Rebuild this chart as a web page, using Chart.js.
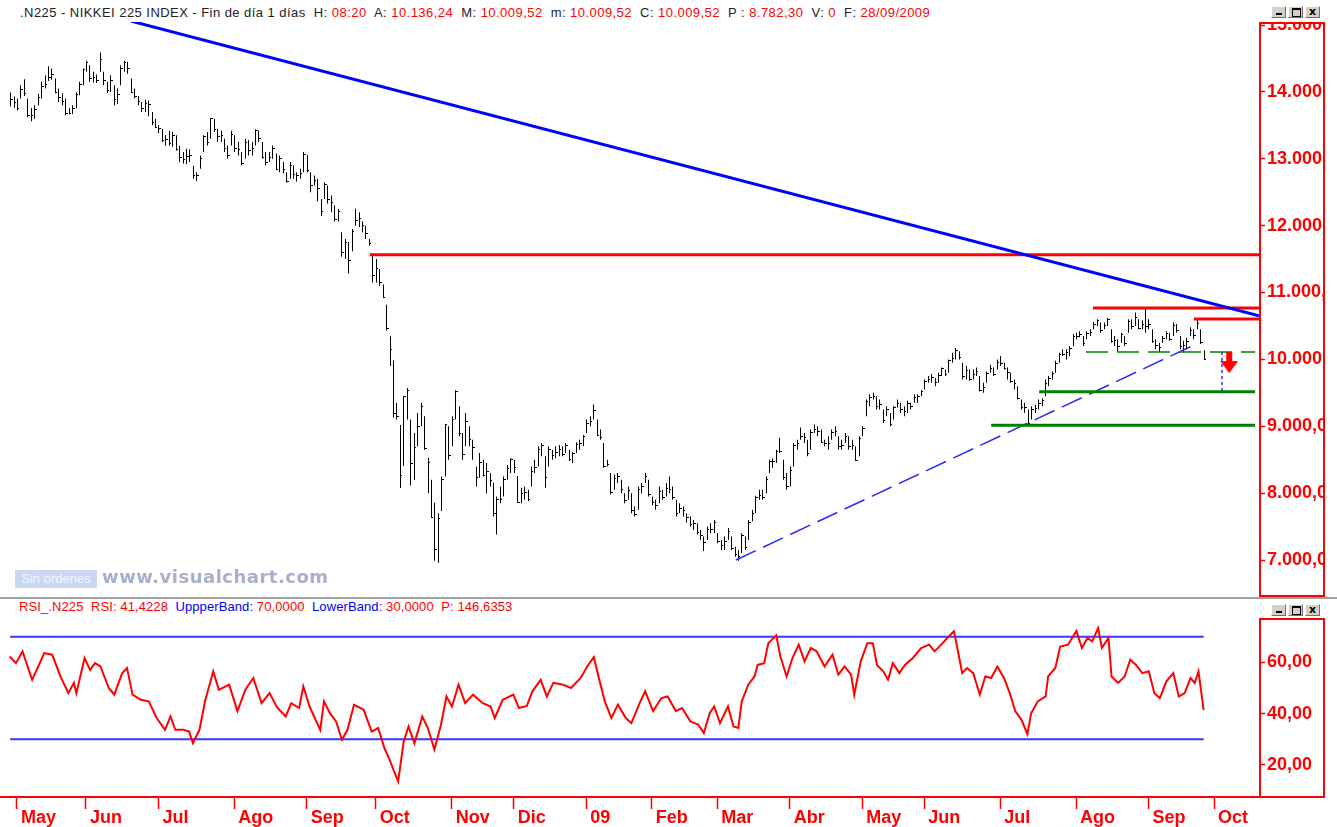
<!DOCTYPE html>
<html><head><meta charset="utf-8">
<script src="https://cdn.jsdelivr.net/npm/chart.js@4.4.1/dist/chart.umd.min.js"></script>
<style>
html,body{margin:0;padding:0;background:#fff;width:1337px;height:827px;overflow:hidden;position:relative;font-family:'Liberation Sans',Arial,sans-serif;}
.abs{position:absolute;}
#hdr{left:20px;top:5px;font-size:13px;line-height:15px;white-space:pre;color:#222;letter-spacing:0.45px;}
#rsiHdr{left:19px;top:599px;font-size:13px;line-height:15px;white-space:pre;color:#ff0000;letter-spacing:0.1px;}
.r{color:#ff0000}.b{color:#0000ff}
#mainC{left:0;top:22px;}
#rsiC{left:0;top:618px;}
.sep{left:0;top:597px;width:1337px;height:2px;background:#a0a0a0;}
.wb{position:absolute;width:15px;height:12px;background:#d4d0c8;border-top:1px solid #fff;border-left:1px solid #fff;border-right:1px solid #707070;border-bottom:1px solid #707070;box-sizing:border-box;}
.wb i{position:absolute;display:block;}
.min i{left:4px;top:6px;width:6px;height:2px;background:#000;}
.max i{left:3px;top:1px;width:7px;height:6px;border:1px solid #000;border-top-width:2px;}
.cls{font:bold 11px 'DejaVu Sans';line-height:10px;text-align:center;color:#000;}
#sinord{left:15px;top:570px;width:82px;height:18px;background:#c9d7f3;color:#f2f5ff;font-size:13px;line-height:18px;text-align:center;}
#vc{left:102px;top:566px;font:bold 18px 'DejaVu Sans';color:#a9aecd;letter-spacing:0.5px;}
</style>
</head><body>
<div id="hdr" class="abs">.N225 - NIKKEI 225 INDEX - Fin de día 1 días  H: <span class="r">08:20</span>  A: <span class="r">10.136,24</span>  M: <span class="r">10.009,52</span>  m: <span class="r">10.009,52</span>  C: <span class="r">10.009,52</span>  P : <span class="r">8.782,30</span>  V: <span class="r">0</span>  F: <span class="r">28/09/2009</span></div>
<div class="wb min" style="left:1271px;top:6px"><i></i></div>
<div class="wb max" style="left:1288px;top:6px"><i></i></div>
<div class="wb cls" style="left:1305px;top:6px">x</div>
<canvas id="mainC" class="abs" width="1325" height="575"></canvas>
<div id="sinord" class="abs">Sin órdenes</div>
<div id="vc" class="abs">www.visualchart.com</div>
<div class="sep abs"></div>
<div id="rsiHdr" class="abs">RSI_.N225  RSI: 41,4228  <span class="b">UppperBand:</span> 70,0000  <span class="b">LowerBand:</span> 30,0000  P: 146,6353</div>
<div class="wb min" style="left:1271px;top:604px"><i></i></div>
<div class="wb max" style="left:1288px;top:604px"><i></i></div>
<div class="wb cls" style="left:1305px;top:604px">x</div>
<canvas id="rsiC" class="abs" width="1325" height="209"></canvas>
<script>
// ---------- DATA (trading-day index 0 = 28/04/2008) ----------
const monthIdx = [2,22,43,65,86,106,128,146,167,186,205,226,247,265,287,309,330,349];
const monthLbl = ['May','Jun','Jul','Ago','Sep','Oct','Nov','Dic','09','Feb','Mar','Abr','May','Jun','Jul','Ago','Sep','Oct'];
const priceTicks = [7000,8000,9000,10000,11000,12000,13000,14000,15000];
const priceLbl = ['7.000,00','8.000,00','9.000,00','10.000,00','11.000,00','12.000,00','13.000,00','14.000,00','15.000,00'];
const rsiTicks = [20,40,60];
const rsiLbl = ['20,00','40,00','60,00'];

const cl = [
13894,13849,
13766,14049,13978,13655,13655,13742,13920,14081,14118,14220,14269,14003,13926,13860,13690,13691,13759,13973,14121,14338,
14440,14209,14230,14183,14489,14181,14021,14183,13888,13973,14354,14452,14350,14002,13942,13857,13763,13829,13822,13544,13481,
13463,13286,13300,13237,13350,13150,13033,12992,13039,13059,12754,12760,13011,13334,13248,13603,13452,13334,13353,13159,13060,13376,
13168,13153,12933,13254,13124,13168,13430,13303,13023,12956,13019,13165,12852,13011,12851,12666,12910,12766,12753,12790,13072,
12834,12609,12689,12557,12212,12624,12400,12346,12102,12214,11609,11749,11489,11920,12090,12115,12006,11893,11743,11259,
11368,11154,10938,10473,10156,9203,9157,8276,9447,9547,8458,8693,9005,9306,8674,8460,7649,7162,7621,8211,9029,8577,
9114,9521,8899,8583,9081,8809,8695,8238,8463,8273,8328,8190,7703,7910,7911,8213,8373,8512,
8397,7863,8004,8016,7917,8329,8395,8660,8720,8235,8664,8568,8612,8667,8588,8723,8517,8599,8739,8747,8859,
9043,9080,9239,8876,8836,8413,8438,8023,8230,8256,8065,7901,8051,7745,7682,8061,8106,8251,7994,
7873,7825,8038,7949,8076,8065,7945,7705,7779,7750,7645,7534,7557,7416,7376,7268,7461,7457,7568,
7280,7229,7290,7433,7173,7086,7054,7376,7198,7569,7704,7949,7972,7945,8215,8488,8480,8636,8626,8236,8109,
8351,8719,8749,8857,8833,8595,8916,8964,8924,8767,8743,8755,8907,8925,8711,8727,8847,8707,8726,8493,8828,
8977,9385,9432,9451,9298,9340,9093,9265,9038,9290,9344,9264,9225,9347,9310,9438,9451,9523,
9677,9704,9741,9668,9768,9865,9787,9991,10022,10135,10039,9752,9840,9703,9786,9826,9549,9590,9796,9877,9783,9958,
9939,9876,9816,9680,9647,9420,9291,9287,9050,9262,9269,9344,9395,9652,9723,9792,9944,10088,10087,10113,10165,10357,
10352,10375,10252,10388,10412,10524,10585,10435,10517,10597,10268,10284,10204,10383,10238,10581,10497,10639,10473,10534,10492,
10530,10280,10214,10187,10320,10393,10312,10513,10444,10202,10217,10270,10443,10370,10544,10265,10009];

const hi = [
13990,13930,
13900,14100,14190,13900,13760,13800,13968,14150,14250,14383,14350,14200,14050,13980,13900,13760,13800,13990,14150,14350,
14466,14400,14300,14260,14588,14300,14150,14250,14100,14050,14400,14466,14450,14200,14050,13940,13850,13880,13870,13700,13600,
13500,13450,13350,13415,13400,13350,13195,13100,13150,13140,12890,12800,13050,13350,13400,13608,13600,13450,13420,13300,13200,13420,
13350,13250,13100,13300,13280,13250,13443,13420,13250,13100,13100,13200,13080,13050,12950,12800,12950,12900,12800,12850,13100,
13056,12800,12750,12700,12400,12650,12600,12450,12300,12250,11900,11800,11755,11950,12254,12200,12060,12000,11800,11562,
11500,11350,11120,10816,10345,9985,9350,9018,9450,9574,9100,8900,9200,9350,9150,8528,8200,7857,7700,8250,9030,9000,
9150,9540,9300,8900,9200,9000,8800,8400,8600,8500,8450,8300,8155,7950,8100,8250,8420,8520,
8500,8255,8080,8100,8050,8400,8500,8703,8750,8550,8700,8650,8700,8720,8700,8750,8650,8620,8760,8800,8870,
9100,9150,9325,9100,8950,8750,8500,8300,8280,8300,8200,8000,8100,8000,7800,8100,8150,8305,8200,
7950,7900,8100,8050,8150,8250,8100,7900,7850,7800,7700,7650,7600,7550,7450,7350,7500,7550,7600,
7400,7300,7350,7480,7350,7200,7150,7400,7350,7600,7750,7960,8050,8050,8250,8500,8520,8650,8827,8500,8300,
8400,8750,8800,8980,8900,8800,8950,9025,9000,8950,8800,8850,8950,9000,8850,8800,8900,8850,8800,8700,8850,
9000,9400,9480,9500,9450,9400,9250,9300,9200,9300,9400,9350,9300,9380,9350,9480,9480,9540,
9700,9750,9780,9720,9800,9880,9850,10000,10100,10170,10120,9950,9900,9850,9850,9880,9750,9650,9820,9920,9880,10000,
10050,9950,9880,9800,9700,9600,9400,9350,9250,9300,9320,9400,9420,9700,9750,9820,9980,10100,10150,10150,10200,10380,
10400,10420,10350,10420,10450,10560,10600,10550,10550,10620,10450,10350,10300,10400,10350,10600,10600,10700,10600,10580,10767,
10600,10450,10300,10250,10350,10420,10400,10550,10530,10350,10280,10320,10480,10450,10605,10450,10136];

const lo = [
13780,13760,
13720,13900,13940,13620,13560,13600,13800,13900,14050,14162,14180,13980,13850,13800,13650,13665,13670,13750,13950,14100,
14300,14150,14140,14134,14300,14100,13980,14000,13800,13820,14100,14300,14273,13980,13900,13800,13700,13700,13637,13500,13470,
13380,13250,13200,13200,13180,13120,12950,12930,12918,12950,12700,12668,12850,13100,13200,13300,13400,13250,13250,13100,13000,13200,
13100,13050,12900,13000,13050,13050,13200,13250,13000,12900,12950,13000,12830,12800,12780,12640,12700,12700,12660,12700,12800,
12800,12500,12600,12365,12143,12400,12330,12200,12060,12060,11535,11500,11286,11618,12000,11977,11900,11800,11700,11148,
11150,11100,10926,10430,9900,9129,9100,8078,8404,9100,8115,8200,8700,9000,8650,8000,7632,6990,6960,7732,8250,8500,
8700,9100,8850,8500,8700,8700,8500,8100,8230,8250,8000,8100,7650,7383,7850,7950,8200,8300,
8300,7856,7850,7900,7880,8100,8300,8400,8550,8080,8400,8500,8520,8550,8550,8600,8480,8450,8600,8650,8700,
8900,9000,9100,8850,8800,8380,8400,7980,8050,8150,8000,7850,7900,7700,7650,7750,8000,8150,7950,
7820,7750,7850,7900,7950,8000,7900,7650,7700,7650,7560,7500,7450,7380,7300,7134,7300,7400,7400,
7250,7150,7150,7300,7150,7050,6990,7100,7150,7300,7580,7700,7900,7900,8000,8300,8380,8450,8600,8200,8050,
8100,8400,8650,8800,8750,8550,8650,8900,8850,8750,8700,8650,8800,8850,8650,8650,8750,8650,8650,8480,8550,
8850,9150,9300,9400,9250,9250,9050,9150,9000,9100,9280,9200,9150,9200,9250,9350,9350,9450,
9550,9650,9650,9600,9650,9750,9750,9800,9950,10000,10000,9700,9700,9680,9700,9750,9520,9500,9650,9800,9750,9850,
9900,9850,9700,9650,9550,9400,9250,9200,9030,9100,9200,9250,9300,9450,9600,9700,9800,9950,10050,10000,10050,10200,
10300,10330,10200,10300,10350,10450,10500,10400,10450,10500,10250,10200,10110,10250,10200,10400,10450,10500,10450,10450,10400,
10450,10250,10150,10110,10250,10300,10280,10350,10400,10150,10110,10150,10350,10300,10450,10230,9990];

// RSI (x = trading-day index, y = RSI)
const rsiX = [-0.1,1.7,3.6,6.4,9.9,12.2,14.6,16.9,18.5,19.2,21.6,23.2,24.6,26.2,28.6,30.2,32.5,33.9,35.5,37.9,
40.2,42.5,44.9,46.5,47.9,50.2,51.9,53,54.9,56.5,58.9,60.5,63.5,65.9,68.2,70.5,72.9,75.2,77.5,79.9,
81.5,83.8,85,86.8,89.9,91,92.7,94.5,96.2,97.8,99.7,102.5,104.8,106.7,108.5,110.2,111.3,112.5,114.1,115.5,
117.2,119.5,121.1,123,124.9,126.5,128.1,130,131.9,134.2,137,139.3,140.5,142.8,145.9,147.5,149.8,151.4,153.8,155.6,
157.5,160.3,162.6,165.4,167.3,169.2,170.8,172.4,174.3,176.2,178.5,180.1,182.5,184.1,186.4,188.8,190.6,193,194.8,197.2,
199.5,201.1,202.8,204.1,205.8,208.1,209.7,211.1,212.1,214,215.8,216.7,218.6,219.8,222.1,223.3,225.1,226.8,228.6,230.3,
232.1,233.8,236.1,238.4,240.1,241.9,243.8,244.7,246.6,248.5,250.1,251.3,253.1,254.5,255.9,257.8,259.4,261.7,264.1,266.4,
268,269.9,271.7,273.6,274.6,276,277.4,279.2,281.1,282.7,284.4,286.2,288.1,289.8,291.4,293.2,294.9,296,297.9,300.2,
300.9,303,304.4,306.7,309.1,310.7,312.3,313.7,315.4,316.5,318.4,319.3,321.2,323.1,324.7,326.4,328.2,330.1,331.7,333.3,
335.2,337.2,338.8,340.5,342.2,343.4,344.5,346];
const rsiY = [62.3,59.7,64.3,53.2,63.6,63,54.5,48,52,48,61.7,57,59.7,58.4,50,47.4,55.8,57.8,47.4,45.4,
44.8,38.3,33.7,38.9,33.7,33.7,33,28.5,33.7,44.8,56.5,49.3,51.3,41,49.3,53.9,44.1,48,42.2,38.9,
44.1,42.2,50.6,42.8,33.7,44.8,40.2,37,29.8,33.7,43.5,41.5,33,34.4,26.6,21.4,17.5,13.6,29.2,35,
28.5,38.9,34.4,26,35.7,46.7,42.8,51.3,44.1,47.4,44.1,42.8,38.3,45.4,47.4,42.2,43,48.7,53.2,46.7,
52,51.3,50,53.9,58.4,62,53.2,44.8,38.3,43.5,38.3,36.3,44.1,48.7,41,46.1,46.7,41,42.2,37,
35.7,32.4,40.2,42.8,36.3,42.8,35,34.4,44.8,51.3,54.5,59,59.7,67.5,70.5,62.3,54.5,61.7,66.9,60.4,
65.6,64.3,58.4,63,55.2,58.4,55.2,47.4,60.4,67.5,67.5,59,56.5,53.2,59.7,55.8,59,61.7,65.6,66.9,
64.3,66.9,69.5,72.1,65.6,55.8,57.8,55.8,47.4,54.5,53.9,58.4,53.9,48,40.9,37.6,32,40.2,44.8,46.7,
54.5,57.8,66.2,66.9,72.3,65.6,69.5,68.2,73.4,65.6,69.5,54.5,52,54.5,61,59,55.8,56.5,48,46.1,
52.6,55.8,46.7,48,53.9,52,56.5,41.4];
const rsiBands = [70, 30];
const bandX = [0, 346];

// drawn study lines (index, price)
const downTrendX = [35.0, 362.04], downTrendY = [15059, 10651];
const upTrendX = [210.4, 343.5], upTrendY = [7000, 10221];
const redLevels = [11565, 10769, 10605], redStart = [104.3, 313.9, 343.2];
const greenLevels = [9515, 9016], greenStart = [298.3, 284.4];
const neckLevel = 10112, neckStart = 311.9;
const lineEnd = 360.9;
const targetX = 351.3, targetY = [10112, 9480];
const arrowX = 353.4, arrowY = 9952;

// ---------- CHART ----------
const X_MIN = -2.928, X_MAX = 362.04;
const AXIS_W = 66;
const RED = '#ff0000';
const tickFont = {family: "'Liberation Sans', Arial, sans-serif", size: 18, weight: 'bold'};

const axisBox = {
  id: 'axisBox',
  afterDraw(chart) {
    const {ctx, chartArea} = chart;
    ctx.save();
    ctx.strokeStyle = RED; ctx.lineWidth = 2;
    const x0 = chartArea.right + 1, x1 = chart.width - 1;
    const y1 = chart.canvas.id === 'rsiC' ? chartArea.bottom : chart.height - 1;
    ctx.strokeRect(x0, 1, x1 - x0, y1 - 1);
    ctx.restore();
  }
};

const crispBars = {
  id: 'crispBars',
  afterDatasetsUpdate(chart) {
    chart.getSortedVisibleDatasetMetas().forEach(m => {
      if (m.type === 'bar') m.data.forEach(el => { el.x = Math.round(el.x) + 0.5; });
    });
  },
  afterDatasetDraw(chart, args) {
    if (args.meta.type !== 'bar') return;
    const {ctx} = chart, xs = chart.scales.x, ys = chart.scales.y;
    ctx.save(); ctx.fillStyle = '#000';
    cl.forEach((c, i) => {
      const px = Math.round(xs.getPixelForValue(i) + 0.5);
      const py = Math.round(ys.getPixelForValue(c));
      ctx.fillRect(px, py, 2, 1);
    });
    ctx.restore();
  }
};

const arrowImg = document.createElement('canvas');
arrowImg.width = 18; arrowImg.height = 21;
(function(){ const a = arrowImg.getContext('2d'); a.fillStyle = RED;
  a.fillRect(6, 0, 6, 10); a.beginPath(); a.moveTo(0, 9); a.lineTo(18, 9); a.lineTo(9, 21); a.closePath(); a.fill(); })();

function hline(v, x0, x1) { return [{x: x0, y: v}, {x: x1, y: v}]; }
function pts(xs, ys) { return xs.map((x, i) => ({x, y: ys[i]})); }
const lineDs = (data, color, width, dash) => ({type: 'line', data, borderColor: color, borderWidth: width,
  borderDash: dash || [], pointRadius: 0, fill: false, tension: 0});

const mainDatasets = [
  {type: 'line', data: [{x: arrowX, y: arrowY}], pointStyle: arrowImg, pointRadius: 6, showLine: false},
  lineDs(pts([targetX, targetX], targetY), '#3030ff', 1.5, [3, 3]),
  lineDs(pts(downTrendX, downTrendY), '#0000ff', 3),
  ...redLevels.map((v, i) => lineDs(hline(v, redStart[i], X_MAX), RED, 3)),
  ...greenLevels.map((v, i) => lineDs(hline(v, greenStart[i], lineEnd), '#008000', 3)),
  lineDs(hline(neckLevel, neckStart, lineEnd), '#008000', 1.5, [22, 9]),
  lineDs(pts(upTrendX, upTrendY), '#2a2aff', 1.5, [22, 8]),
  {type: 'bar', data: hi.map((h, i) => ({x: i, y: [lo[i], h]})), backgroundColor: '#000',
   borderWidth: 0, barThickness: 1, inflateAmount: 0, grouped: false}
];

function fitY(s) { s.width = AXIS_W; s.paddingTop = 0; s.paddingBottom = 0; s.paddingLeft = 0; s.paddingRight = 0; }
function fitX(s) { s.height = 30; s.paddingLeft = 0; s.paddingRight = 0; s.paddingTop = 0; s.paddingBottom = 0; }

new Chart(document.getElementById('mainC'), {
  type: 'bar',
  data: {datasets: mainDatasets},
  plugins: [axisBox, crispBars],
  options: {
    responsive: false, devicePixelRatio: 1, animation: false,
    layout: {padding: 0, autoPadding: false},
    plugins: {legend: {display: false}, tooltip: {enabled: false}},
    scales: {
      x: {type: 'linear', min: X_MIN, max: X_MAX, offset: false, display: false},
      y: {type: 'linear', position: 'right', min: 6447, max: 15045,
        afterFit: fitY,
        afterBuildTicks(s) { s.ticks = priceTicks.map(v => ({value: v})); },
        border: {display: false},
        grid: {drawOnChartArea: false, drawTicks: true, tickLength: 6, color: RED, tickColor: RED, tickWidth: 1.5},
        ticks: {autoSkip: false, padding: 2, color: RED, font: tickFont, callback: (v, i) => priceLbl[i]}
      }
    }
  }
});

new Chart(document.getElementById('rsiC'), {
  type: 'line',
  data: {datasets: [
    lineDs(pts(rsiX, rsiY), RED, 2),
    ...rsiBands.map(b => lineDs(hline(b, bandX[0], bandX[1]), '#3838ff', 2))
  ]},
  plugins: [axisBox],
  options: {
    responsive: false, devicePixelRatio: 1, animation: false,
    layout: {padding: 0, autoPadding: false},
    plugins: {legend: {display: false}, tooltip: {enabled: false}},
    scales: {
      x: {type: 'linear', min: X_MIN, max: X_MAX, offset: false, position: 'bottom',
        afterFit: fitX,
        afterBuildTicks(s) { s.ticks = monthIdx.map(v => ({value: v})); },
        border: {display: true, color: RED, width: 2},
        grid: {drawOnChartArea: false, drawTicks: true, tickLength: 12, color: RED, tickColor: RED, tickWidth: 1.5},
        ticks: {autoSkip: false, maxRotation: 0, minRotation: 0, align: 'start', labelOffset: 4, padding: -2,
          color: RED, font: tickFont, callback: (v, i) => monthLbl[i]}
      },
      y: {type: 'linear', position: 'right', min: 7.5, max: 77.3,
        afterFit: fitY,
        afterBuildTicks(s) { s.ticks = rsiTicks.map(v => ({value: v})); },
        border: {display: false},
        grid: {drawOnChartArea: false, drawTicks: true, tickLength: 6, color: RED, tickColor: RED, tickWidth: 1.5},
        ticks: {autoSkip: false, padding: 2, color: RED, font: tickFont, callback: (v, i) => rsiLbl[i]}
      }
    }
  }
});
</script>
</body></html>
